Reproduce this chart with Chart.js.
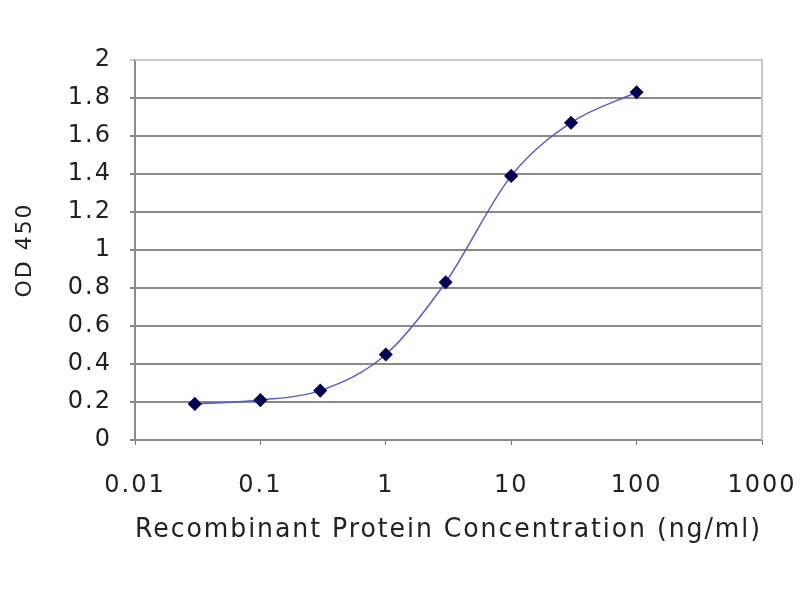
<!DOCTYPE html>
<html>
<head>
<meta charset="utf-8">
<script src="https://cdn.jsdelivr.net/npm/chart.js@4.4.1/dist/chart.umd.min.js"></script>
<style>
  html,body{margin:0;padding:0;background:#fff;}
  #wrap{width:800px;height:600px;}
</style>
</head>
<body>
<div id="wrap"><canvas id="odChart" width="800" height="600"></canvas></div>
<script>
// ELISA standard curve: OD450 vs recombinant protein concentration
const CONCENTRATIONS = [0.03, 0.1, 0.3, 1, 3, 10, 30, 100];   // ng/ml
const OD_VALUES      = [0.19, 0.21, 0.26, 0.45, 0.83, 1.39, 1.67, 1.83];
const X_TICKS = [0.01, 0.1, 1, 10, 100, 1000];
const Y_TICKS = [0, 0.2, 0.4, 0.6, 0.8, 1, 1.2, 1.4, 1.6, 1.8, 2];

const FONT = 'DejaVu Sans';

// frame round the plot area (top/right borders are light)
const framePlugin = {
  id: 'frame',
  beforeDraw(chart){
    chart.ctx.letterSpacing = '2px';  // reference text is wide
  },
  afterDraw(chart){
    const {ctx, chartArea:a} = chart;
    ctx.save();
    ctx.strokeStyle = '#c8c8c8';
    ctx.lineWidth = 2;
    ctx.beginPath();
    ctx.moveTo(a.left, a.top); ctx.lineTo(a.right, a.top); ctx.lineTo(a.right, a.bottom);
    ctx.stroke();
    ctx.restore();
  }
};

const ctx = document.getElementById('odChart').getContext('2d');
new Chart(ctx, {
  type: 'line',
  data: {
    datasets: [{
      data: CONCENTRATIONS.map((x,i)=>({x, y: OD_VALUES[i]})),
      borderColor: '#5c5cc0',
      borderWidth: 1.5,
      tension: 0.4,
      cubicInterpolationMode: 'monotone',
      pointStyle: 'rectRot',
      pointRadius: 6,
      pointBackgroundColor: '#000055',
      pointBorderColor: '#000055',
      fill: false
    }]
  },
  options: {
    responsive: false,
    animation: false,
    layout: { padding: { left: 0, right: 38, top: 60, bottom: 50 } },
    plugins: { legend: { display: false }, tooltip: { enabled: false } },
    scales: {
      x: {
        type: 'logarithmic',
        min: 0.01, max: 1000,
        afterBuildTicks: s => { s.ticks = X_TICKS.map(v=>({value:v})); },
        afterFit: s => { s.height = 110; s.paddingLeft = 0; s.paddingRight = 0; },
        grid: { display: true, drawOnChartArea: false, drawTicks: true, tickLength: 5, color: '#777' },
        border: { color: '#8a8a8a', width: 2 },
        ticks: {
          color: '#222', padding: 26,
          font: { family: FONT, size: 24 },
          maxRotation: 0, autoSkip: false,
          callback: v => String(v)
        },
        title: {
          display: true,
          text: 'Recombinant Protein Concentration (ng/ml)',
          color: '#222',
          font: { family: FONT, size: 26 },
          padding: { top: 10, bottom: 4 }
        }
      },
      y: {
        min: 0, max: 2,
        afterBuildTicks: s => { s.ticks = Y_TICKS.map(v=>({value:v})); },
        afterFit: s => { s.width = 135; },
        grid: {
          color: c => (c.tick && c.tick.value === 2) ? '#c8c8c8' : '#8a8a8a',
          lineWidth: 2,
          tickLength: 5
        },
        border: { color: '#8a8a8a', width: 2 },
        ticks: {
          color: '#222', padding: 18,
          font: { family: FONT, size: 24 },
          callback: v => String(v)
        },
        title: {
          display: true,
          text: 'OD 450',
          color: '#222',
          font: { family: FONT, size: 22 },
          padding: { top: 12, bottom: 6 }
        }
      }
    }
  },
  plugins: [framePlugin]
});
</script>
</body>
</html>
